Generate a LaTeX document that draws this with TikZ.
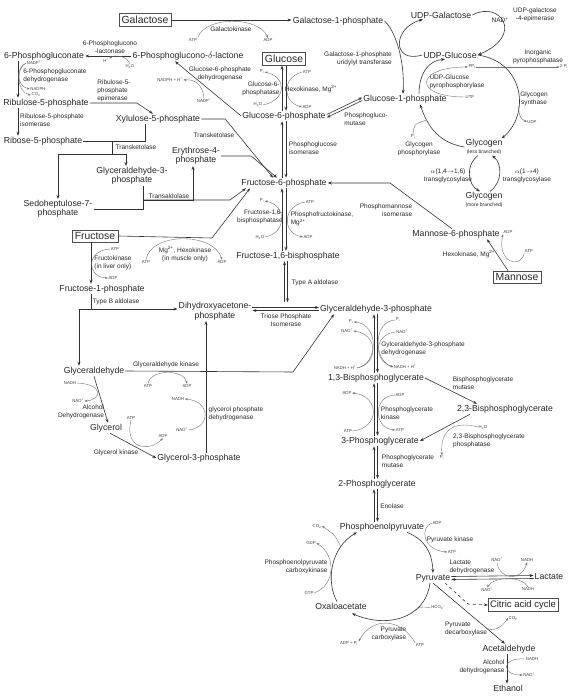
\documentclass[tikz,border=0pt]{standalone}
\usepackage{fontspec}
\setmainfont{Liberation Sans}
\usetikzlibrary{arrows.meta, positioning}

\begin{document}
\begin{tikzpicture}[
  x=1pt, y=-1pt,
  met/.style={font=\fontsize{8.7}{9.5}\selectfont, inner sep=1pt, text=black!85, align=center},
  sugar/.style={draw=black!70, font=\fontsize{10.4}{12}\selectfont, inner sep=2.5pt, text=black!85},
  enz/.style={font=\fontsize{6.5}{8.2}\selectfont, inner sep=0.5pt, text=black!85},
  cof/.style={font=\fontsize{4.3}{5}\selectfont, inner sep=0.5pt, text=black!75},
  arr/.style={-{Stealth[length=4pt,width=3pt]}, draw=black!80, line width=0.6pt},
  link/.style={draw=black!80, line width=0.6pt},
  side/.style={-{Stealth[length=3pt,width=2.2pt]}, draw=black!55, line width=0.4pt},
  feed/.style={draw=black!55, line width=0.4pt},
]
\useasboundingbox (0,0) rectangle (577,700);

% metabolites
\node[sugar] (galactose) at (145,20) {Galactose};
\node[met] (gal1p) at (338,21) {Galactose-1-phosphate};
\node[met] (udpgal) at (441,15) {UDP-Galactose};
\node[met] (udpglc) at (450,55) {UDP-Glucose};
\node[met] (glc1p) at (405,99) {Glucose-1-phosphate};
\node[met] (glyless) at (484,147) {Glycogen\\[-2pt]{\fontsize{5}{6}\selectfont(less branched)}};
\node[met] (glymore) at (484,200) {Glycogen\\[-2pt]{\fontsize{5}{6}\selectfont(more branched)}};
\node[met] (pglc) at (44,56) {6-Phosphogluconate};
\node[met] (lact) at (188,56) {6-Phosphoglucono-$\delta$-lactone};
\node[met] (ru5p) at (46,103) {Ribulose-5-phosphate};
\node[met] (xu5p) at (158,119) {Xylulose-5-phosphate};
\node[met] (r5p) at (43,141) {Ribose-5-phosphate};
\node[met] (gap1) at (132,176) {Glyceraldehyde-3-\\phosphate};
\node[met] (s7p) at (58,209) {Sedoheptulose-7-\\phosphate};
\node[met] (e4p) at (196,156) {Erythrose-4-\\phosphate};
\node[sugar] (glucose) at (284,59) {Glucose};
\node[met] (g6p) at (284,116) {Glucose-6-phosphate};
\node[met] (f6p) at (284,183) {Fructose-6-phosphate};
\node[met] (f16bp) at (288,256) {Fructose-1,6-bisphosphate};
\node[met] (dhap) at (215,311) {Dihydroxyacetone-\\phosphate};
\node[met] (gap) at (376,309) {Glyceraldehyde-3-phosphate};
\node[sugar] (fructose) at (95,236) {Fructose};
\node[met] (f1p) at (102,289) {Fructose-1-phosphate};
\node[met] (glyald) at (94,371) {Glyceraldehyde};
\node[met] (glycerol) at (106,428) {Glycerol};
\node[met] (gro3p) at (199,458) {Glycerol-3-phosphate};
\node[met] (m6p) at (456,234) {Mannose-6-phosphate};
\node[sugar] (mannose) at (517,277) {Mannose};
\node[met] (bpg13) at (376,378) {1,3-Bisphosphoglycerate};
\node[met] (bpg23) at (505,409) {2,3-Bisphosphoglycerate};
\node[met] (pg3) at (380,441) {3-Phosphoglycerate};
\node[met] (pg2) at (377,484) {2-Phosphoglycerate};
\node[met] (pep) at (382,527) {Phosphoenolpyruvate};
\node[met] (pyr) at (433,578) {Pyruvate};
\node[met] (lac) at (549,577) {Lactate};
\node[sugar, font=\fontsize{9.5}{11}\selectfont, inner sep=2pt] (tca) at (523,605) {Citric acid cycle};
\node[met] (oaa) at (341,606) {Oxaloacetate};
\node[met] (acald) at (509,649) {Acetaldehyde};
\node[met] (etoh) at (508,688) {Ethanol};

% enzymes and cofactors
\node[enz] (galk) at (231,29) {Galactokinase};
\node[cof] (atpgal) at (193,40) {ATP};
\node[cof] (adpgal) at (268,40) {ADP};
\node[enz, align=right] (galt) at (358,59) {Galactose-1-phosphate\\uridylyl transferase};
\node[enz, align=center] (gale) at (535,15) {UDP-galactose\\-4-epimerase};
\node[enz] (nadep) at (500,20) {NAD\textsuperscript{+}};
\node[enz, align=center] (ppase) at (538,57) {Inorganic\\pyrophosphatase};
\node[cof] (ppi) at (472,67) {PP\textsubscript{i}};
\node[cof] (twopi) at (564,67) {2 P\textsubscript{i}};
\node[enz, align=left] (ugp) at (457,82) {UDP-Glucose\\pyrophosphorylase};
\node[cof] (utp) at (470,97) {UTP};
\node[enz, align=center] (gys) at (534,99) {Glycogen\\synthase};
\node[cof] (udp) at (532,122) {UDP};
\node[enz, align=center] (pygl) at (419,149) {Glycogen\\phosphorylase};
\node[cof] (pipyg) at (413,137) {P\textsubscript{i}};
\node[enz, align=center] (gbe) at (448,176) {$\alpha$(1,4$\rightarrow$1,6)\\transglycosylase};
\node[enz, align=center] (gde) at (527,176) {$\alpha$(1$\rightarrow$4)\\transglycosylase};
\node[enz, align=center] (pgls) at (110,47) {6-Phosphoglucono\\-lactonase};
\node[cof] (hpgl) at (106,61) {H\textsuperscript{+}};
\node[cof] (h2opgl) at (130,67) {H\textsubscript{2}O};
\node[enz, align=left] (pgd) at (55,76) {6-Phosphopgluconate\\dehydrogenase};
\node[cof] (nadppgd) at (34,63) {NADP\textsuperscript{+}};
\node[cof] (nadphpgd) at (38,89) {NADPH};
\node[cof] (co2pgd) at (36,95) {CO\textsubscript{2}};
\node[enz, align=left] (rpe) at (114,91) {Ribulose-5-\\phosphate\\epimerase};
\node[enz, align=left] (rpi) at (52,120) {Ribulose-5-phosphate\\isomerase};
\node[enz] (tkt1) at (136,147) {Transketolase};
\node[enz] (tald) at (169,196) {Transaldolase};
\node[enz] (tkt2) at (214,135) {Transketolase};
\node[enz, align=center] (g6pd) at (220,74) {Glucose-6-phosphate\\dehydrogenase};
\node[cof] (nadphg6) at (170,80) {NADPH + H\textsuperscript{+}};
\node[cof] (nadpg6) at (204,101) {NADP\textsuperscript{+}};
\node[enz, align=right] (g6pase) at (261,89) {Glucose-6-\\phosphatase};
\node[enz] (hk) at (311,89) {Hexokinase, Mg\textsuperscript{2+}};
\node[cof] (pig6) at (262,72) {P\textsubscript{i}};
\node[cof] (atphk) at (307,72) {ATP};
\node[cof] (h2og6) at (258,105) {H\textsubscript{2}O};
\node[cof] (adphk) at (307,107) {ADP};
\node[enz, align=left] (pgm) at (366,119) {Phosphogluco-\\mutase};
\node[enz, align=left] (pgi) at (313,148) {Phosphoglucose\\isomerase};
\node[enz, align=left] (pfk) at (322,219) {Phosphofructokinase,\\Mg\textsuperscript{2+}};
\node[enz, align=right] (fbp) at (260,217) {Fructose-1,6-\\bisphosphatase};
\node[cof] (pif) at (262,201) {P\textsubscript{i}};
\node[cof] (atpf) at (310,202) {ATP};
\node[cof] (h2of) at (260,237) {H\textsubscript{2}O};
\node[cof] (adpf) at (308,237) {ADP};
\node[enz] (alda) at (315,283) {Type A aldolase};
\node[enz, align=center] (tpi) at (286,320) {Triose Phosphate\\Isomerase};
\node[enz, align=right] (pmi) at (386,210) {Phosphomannose\\isomerase};
\node[enz] (hkm) at (469,254) {Hexokinase, Mg\textsuperscript{2+}};
\node[cof] (adpm) at (508,232) {ADP};
\node[cof] (atpm) at (529,251) {ATP};
\node[enz, align=center] (hkf) at (185,254) {Mg\textsuperscript{2+}, Hexokinase\\(in muscle only)};
\node[cof] (atphkf) at (146,262) {ATP};
\node[cof] (adphkf) at (222,262) {ADP};
\node[enz, align=left] (fk) at (113,263) {Fructokinase\\(in liver only)};
\node[cof] (atpfk) at (115,249) {ATP};
\node[cof] (adpfk) at (113,278) {ADP};
\node[enz] (aldb) at (116,302) {Type B aldolase};
\node[enz] (gak) at (166,365) {Glyceraldehyde kinase};
\node[cof] (atpgak) at (148,386) {ATP};
\node[cof] (adpgak) at (187,386) {ADP};
\node[enz, align=left] (gpd) at (236,414) {glycerol phosphate\\dehydrogenase};
\node[cof] (nadhgpd) at (178,399) {NADH};
\node[cof] (nadgpd) at (182,430) {NAD\textsuperscript{+}};
\node[enz, align=right] (adh1) at (81,412) {Alcohol\\Dehydrogenase};
\node[cof] (nadhadh) at (70,383) {NADH};
\node[cof] (nadadh) at (78,401) {NAD\textsuperscript{+}};
\node[enz] (glk) at (116,453) {Glycerol kinase};
\node[cof] (atpglk) at (131,418) {ATP};
\node[cof] (adpglk) at (163,436) {ADP};
\node[enz, align=left] (gapdh) at (423,349) {Gylceraldehyde-3-phosphate\\dehydrogenase};
\node[cof] (pil) at (351,322) {P\textsubscript{i}};
\node[cof] (nadl) at (347,331) {NAD\textsuperscript{+}};
\node[cof] (nadhl) at (345,368) {NADH + H\textsuperscript{+}};
\node[cof] (pir) at (398,320) {P\textsubscript{i}};
\node[cof] (nadr) at (402,332) {NAD\textsuperscript{+}};
\node[cof] (nadhr) at (405,367) {NADH + H\textsuperscript{+}};
\node[enz, align=left] (pgk) at (407,413) {Phosphoglycerate\\kinase};
\node[cof] (adpkl) at (347,393) {ADP};
\node[cof] (atpkl) at (348,431) {ATP};
\node[cof] (adpkr) at (400,395) {ADP};
\node[cof] (atpkr) at (400,430) {ATP};
\node[enz, align=left] (pgam) at (408,461) {Phosphoglycerate\\mutase};
\node[enz] (eno) at (392,506) {Enolase};
\node[enz, align=left] (bpgm) at (483,383) {Bisphosphoglycerate\\mutase};
\node[enz, align=left] (bpgp) at (489,441) {2,3-Bisphosphoglycerate\\phosphatase};
\node[cof] (h2obp) at (483,427) {H\textsubscript{2}O};
\node[cof] (pibp) at (442,458) {P\textsubscript{i}};
\node[enz] (pk) at (450,540) {Pyruvate kinase};
\node[cof] (adppk) at (437,523) {ADP};
\node[cof] (atppk) at (452,552) {ATP};
\node[enz, align=left] (ldh) at (472,567) {Lactate\\dehydrogenase};
\node[cof] (nadlt) at (497,560) {NAD\textsuperscript{+}};
\node[cof] (nadhlt) at (527,560) {NADH};
\node[cof] (nadlb) at (487,590) {NAD\textsuperscript{+}};
\node[cof] (nadhlb) at (528,589) {NADH};
\node[enz, align=left] (pdc) at (466,629) {Pyruvate\\decarboxylase};
\node[cof] (co2pdc) at (513,618) {CO\textsubscript{2}};
\node[enz, align=right] (adh2) at (482,667) {Alcohol\\dehydrogenase};
\node[cof] (nadhe) at (532,659) {NADH};
\node[cof] (nade) at (529,675) {NAD\textsuperscript{+}};
\node[enz, align=right] (pck) at (296,567) {Phosphoenolpyruvate\\carboxykinase};
\node[cof] (co2pck) at (317,526) {CO\textsubscript{2}};
\node[cof] (gdp) at (311,543) {GDP};
\node[cof] (gtp) at (309,593) {GTP};
\node[enz, align=right] (pcx) at (389,634) {Pyruvate\\carboxylase};
\node[cof] (hco3) at (438,608) {HCO\textsubscript{3}\textsuperscript{-}};
\node[cof] (atppc) at (420,645) {ATP};
\node[cof] (adppc) at (349,644) {ADP + P\textsubscript{i}};

% galactose and glycogen
\draw[arr] (galactose.east) -- (galactose.east -| gal1p.west);
\draw[side] (atpgal.north east) .. controls (205,16) and (258,16) .. (adpgal.north);
\draw[arr] (gal1p.east) .. controls (395,30) and (405,60) .. ([xshift=-2pt]glc1p.north);
\draw[arr] (udpglc.west) .. controls (392,64) and (392,28) .. ([xshift=-18pt]udpgal.south);
\draw[arr] (udpgal.east) .. controls (500,0) and (525,35) .. (udpglc.east);
\draw[arr] ([xshift=14pt]glc1p.north) .. controls (419,72) and (430,60) .. ([xshift=-5pt]udpglc.south);
\draw[side] (utp.west) .. controls (412,97) and (415,67) .. (ppi.west);
\draw[side] (ppi.east) -- (twopi.west);
\draw[arr] (udpglc.east) .. controls (525,62) and (530,115) .. ([xshift=-2pt]glyless.north east);
\coordinate (gs) at (518,106);
\draw[side] (gs) .. controls (520,118) .. (udp.west);
\draw[arr] (glyless.west) .. controls (440,143) and (428,128) .. ([xshift=15pt]glc1p.south);
\coordinate (gp) at (427,120);
\draw[feed] (pipyg.north) .. controls (414,124) .. (gp);
\draw[arr] ([xshift=-6pt]glyless.south) .. controls (465,165) and (468,185) .. ([xshift=-4pt]glymore.north);
\draw[arr] ([xshift=6pt]glymore.north) .. controls (503,182) and (502,163) .. ([xshift=8pt]glyless.south);

% pentose phosphate pathway
\draw[arr] (lact.west) -- (pglc.east);
\draw[side] (h2opgl.north) .. controls (127,55) and (114,55) .. (hpgl.north east);
\coordinate (px) at ([xshift=-26pt]pglc.south);
\draw[arr] (px) -- (px |- ru5p.north);
\draw[side] (nadppgd.west) .. controls (16,67) and (16,86) .. (nadphpgd.west);
\draw[side] (nadppgd.west) .. controls (16,67) and (16,92) .. (co2pgd.west);
\draw[arr] (ru5p.east) -- ++(47,0) -- ([xshift=-5pt]xu5p.north);
\draw[arr] (px |- ru5p.south) -- (px |- r5p.north);
\draw[link] ([xshift=-13pt]xu5p.south) |- (r5p.east);
\coordinate (tk) at (112,141);
\coordinate (tkb) at (112,154);
\draw[link] (tk) -- (tkb);
\draw[arr] (tkb) -| (s7p.north);
\draw[arr] (tkb) -| ([xshift=-6pt]gap1.north);
\draw[link] ([xshift=11pt]gap1.south) |- (s7p.east);
\coordinate (ta) at (143,200);
\draw[arr] (ta) -| ([xshift=-3pt]e4p.south);
\draw[arr] (ta) -- (230,200) -- ([xshift=-38pt]f6p.south);
\draw[arr] (xu5p.east) -- ++(24,0) -- ([xshift=-11pt]f6p.north);
\draw[arr] (e4p.east) -- ++(30,0) -- ([xshift=-7pt]f6p.north);
\draw[arr] (g6p.west) -- ([xshift=-13pt]lact.south);
\draw[side] (nadpg6.north) .. controls (203,86) and (196,79) .. (nadphg6.east);

% upper glycolysis
\draw[arr] ([xshift=-2pt]g6p.north) -- ([xshift=-2pt]glucose.south);
\draw[arr] ([xshift=2pt]glucose.south) -- ([xshift=2pt]g6p.north);
\draw[side] (h2og6.east) .. controls (287,100) and (287,77) .. (pig6.east);
\draw[side] (atphk.west) .. controls (282,77) and (282,102) .. (adphk.west);
\draw[arr] ([yshift=1.5pt]g6p.east) -- ([yshift=1.5pt]glc1p.west);
\draw[arr] ([yshift=-1.5pt]glc1p.west) -- ([yshift=-1.5pt]g6p.east);
\draw[arr] ([xshift=-2pt]f6p.north) -- ([xshift=-2pt]g6p.south);
\draw[arr] ([xshift=2pt]g6p.south) -- ([xshift=2pt]f6p.north);
\coordinate (fl) at ([xshift=-2pt]f6p.south);
\coordinate (fr) at ([xshift=2pt]f6p.south);
\draw[arr] (fl |- f16bp.north) -- (fl);
\draw[arr] (fr) -- (fr |- f16bp.north);
\draw[side] (h2of.east) .. controls (287,233) and (287,205) .. (pif.east);
\draw[side] (atpf.west) .. controls (282,206) and (282,233) .. (adpf.west);
\draw[arr] ([xshift=-0.5pt]f16bp.south) -- ++(0,41);
\draw[arr] ([xshift=-3.5pt,yshift=-41pt]f16bp.south) -- ([xshift=-3.5pt]f16bp.south);
\coordinate (tpl) at (dhap.east |- gap.west);
\draw[arr] ([yshift=1.5pt]tpl) -- ([yshift=1.5pt]gap.west);
\draw[arr] ([yshift=-1.5pt]gap.west) -- ([yshift=-1.5pt]tpl);

% mannose
\draw[arr] ([xshift=-9pt]mannose.north) -- ([xshift=31pt]m6p.south);
\draw[side] (atpm.south west) .. controls (520,270) and (497,262) .. (adpm.south west);
\draw[arr] ([xshift=-4pt]m6p.north) -- (390,183) -- (f6p.east);

% fructose and glycerol
\draw[arr] (fructose.east) -- (212,238) -- ([xshift=-34pt]f6p.south);
\draw[side] (atphkf.north) .. controls (150,232) and (214,232) .. (adphkf.north);
\coordinate (fx) at ([xshift=-4pt]fructose.south);
\draw[arr] (fx) -- (fx |- f1p.north);
\draw[side] (atpfk.west) .. controls (86,250) and (86,277) .. (adpfk.west);
\coordinate (ab) at (91,309);
\draw[link] (fx |- f1p.south) -- (ab);
\draw[arr] (ab) -- (ab -| dhap.west);
\draw[arr] (ab) -| ([xshift=-15pt]glyald.north);
\draw[arr] (glyald.east) -- (293,372) -- ([xshift=-42pt]gap.south);
\draw[side] (atpgak.north) .. controls (150,369) and (184,369) .. (adpgak.north);
\coordinate (gx) at ([xshift=7pt]gro3p.north);
\draw[arr] (gx) -- (gx |- dhap.south);
\draw[side] (nadgpd.east) .. controls (211,428) and (211,401) .. (nadhgpd.east);
\draw[arr] (glyald.south) -- ([xshift=2pt]glycerol.north);
\draw[side] (nadhadh.east) .. controls (104,384) and (102,400) .. (nadadh.east);
\draw[arr] ([xshift=4pt]glycerol.south) -- (gro3p.west);
\draw[side] (atpglk.south) .. controls (124,448) and (148,453) .. (adpglk.south);

% lower glycolysis
\coordinate (cl) at ([xshift=-2pt]gap.south);
\coordinate (cr) at ([xshift=1.5pt]gap.south);
\draw[arr] (cl |- bpg13.north) -- (cl);
\draw[arr] (cr) -- (cr |- bpg13.north);
\draw[arr] (cl |- pg3.north) -- (cl |- bpg13.south);
\draw[arr] (cr |- bpg13.south) -- (cr |- pg3.north);
\draw[arr] (cl |- pg2.north) -- (cl |- pg3.south);
\draw[arr] (cr |- pg3.south) -- (cr |- pg2.north);
\draw[arr] (cl |- pep.north) -- (cl |- pg2.south);
\draw[arr] (cr |- pg2.south) -- (cr |- pep.north);
\draw[side] (pir.west) .. controls (373,321) and (373,360) .. (nadhr.west);
\draw[side] (nadr.west) .. controls (374,334) and (373,360) .. (nadhr.west);
\draw[side] (nadhl.east) .. controls (379,364) and (379,324) .. (pil.east);
\draw[side] (nadhl.east) .. controls (379,364) and (378,334) .. (nadl.east);
\draw[side] (atpkl.east) .. controls (380,428) and (380,396) .. (adpkl.east);
\draw[side] (adpkr.west) .. controls (373,396) and (373,428) .. (atpkr.west);
\draw[arr] (bpg13.east) -- ([xshift=-28pt]bpg23.north);
\draw[arr] ([xshift=-35pt]bpg23.south) -- (pg3.east);
\draw[side] (h2obp.west) .. controls (452,420) and (440,432) .. (pibp.north);

% pyruvate
\draw[arr] ([xshift=25pt]pep.south) .. controls (425,540) and (432,552) .. (pyr.north);
\draw[side] (adppk.west) .. controls (420,527) and (422,550) .. (atppk.west);
\draw[arr] ([yshift=1.5pt]pyr.east) -- ([yshift=1.5pt]lac.west);
\draw[arr] ([yshift=-1.5pt]lac.west) -- ([yshift=-1.5pt]pyr.east);
\draw[side] (nadlt.south) .. controls (500,581) and (522,581) .. (nadhlt.south);
\draw[side] (nadhlb.north) .. controls (522,576) and (495,576) .. (nadlb.north);
\draw[arr, dashed] ([xshift=12pt]pyr.south) -- (468,604) -- (tca.west);
\draw[arr] (pyr.south) -- ([xshift=-4pt]acald.north);
\coordinate (pd) at (483,625);
\draw[side] (pd) .. controls (490,634) and (502,628) .. (co2pdc.west);
\draw[arr] ([xshift=-2pt]acald.south) -- ([xshift=-1pt]etoh.north);
\draw[side] (nadhe.west) .. controls (501,657) and (501,675) .. (nade.west);
\draw[arr] ([xshift=-4pt]oaa.north) .. controls (326,582) and (330,548) .. ([xshift=-25pt]pep.south);
\draw[side] (gtp.east) .. controls (336,585) and (336,555) .. (gdp.east);
\coordinate (pk1) at (341,547);
\draw[side] (pk1) .. controls (335,535) .. (co2pck.east);
\draw[arr] ([xshift=-3pt]pyr.south) .. controls (425,620) and (385,628) .. ([xshift=11pt,yshift=-3pt]oaa.south);
\coordinate (pc1) at (410,614);
\draw[feed] (hco3.west) .. controls (420,606) .. (pc1);
\draw[side] (atppc.north west) .. controls (400,617) and (372,617) .. (adppc.north east);
\end{tikzpicture}
\end{document}
